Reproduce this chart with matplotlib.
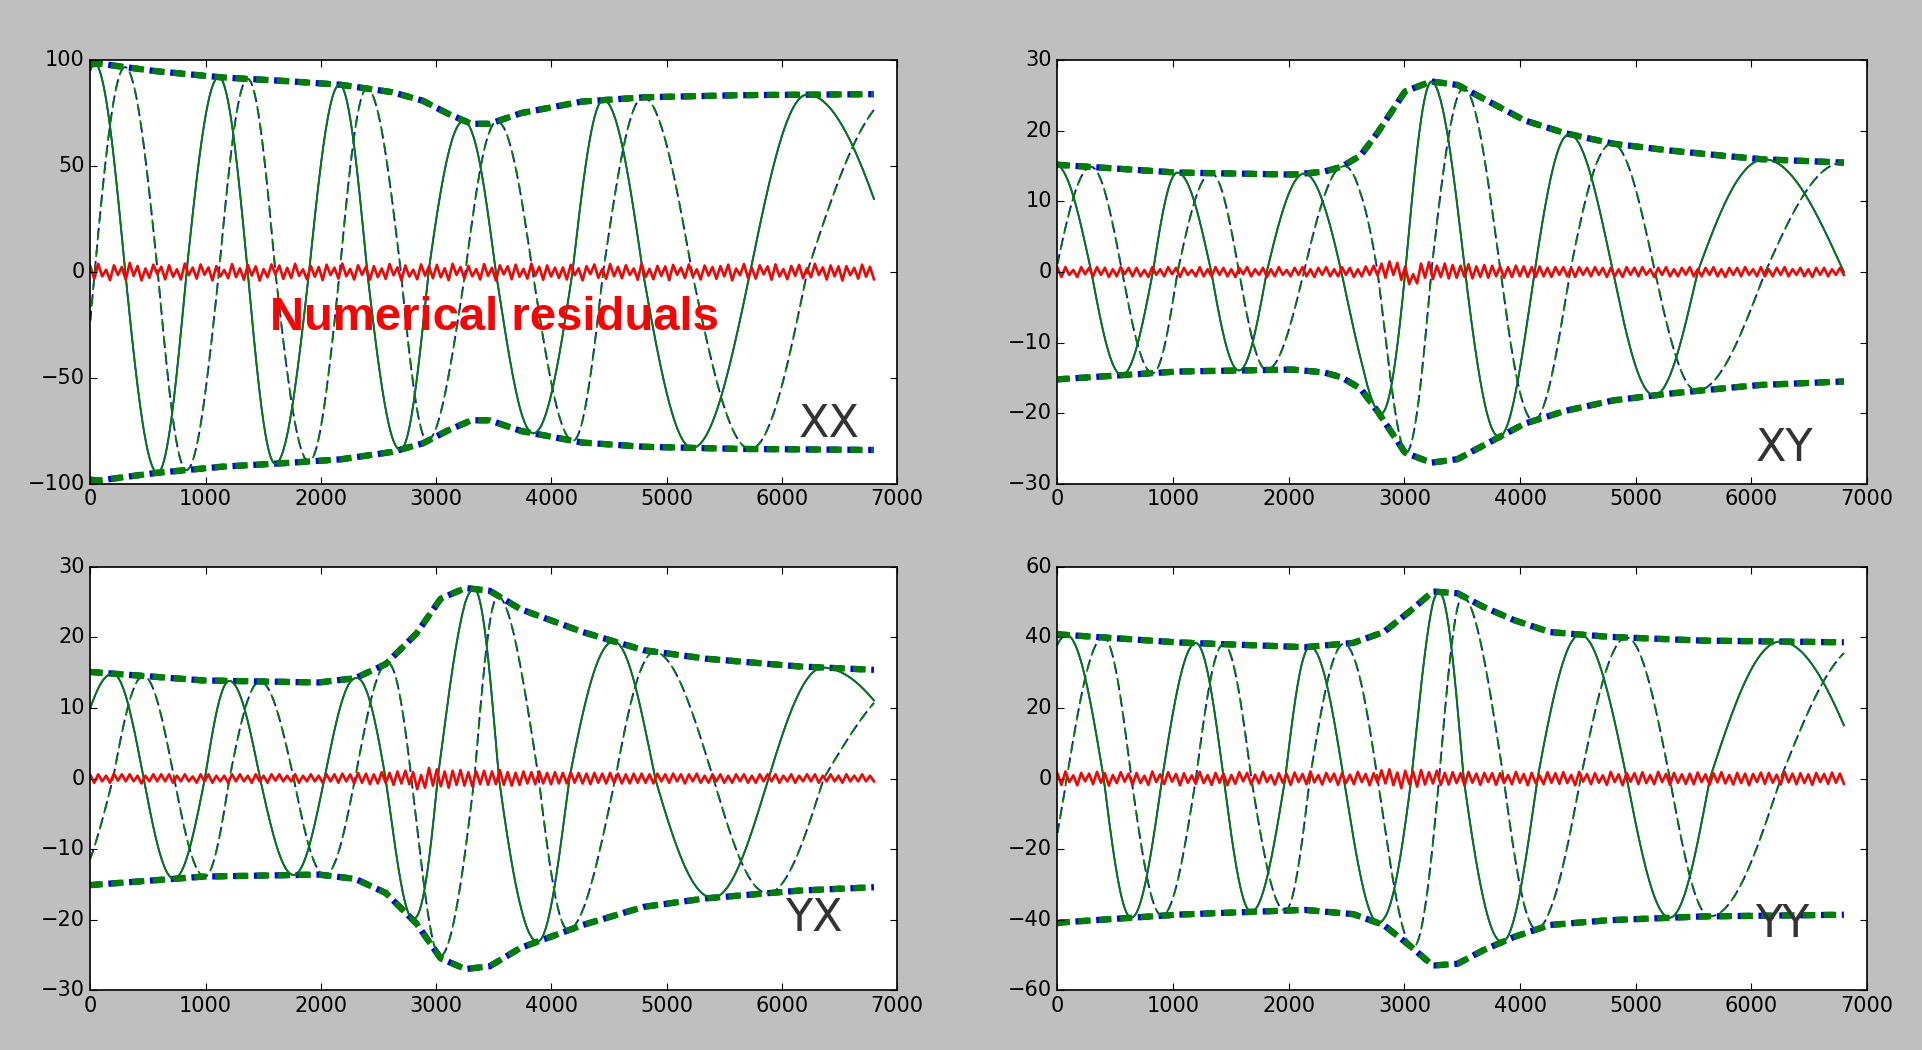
import numpy as np
import matplotlib
matplotlib.use("Agg")
import matplotlib.pyplot as plt

plt.style.use("classic")
plt.rcParams["font.family"] = ["DejaVu Sans"]

# ---------------- data ----------------
panel_names = ["XX", "XY", "YX", "YY"]
x_ticks = [0, 1000, 2000, 3000, 4000, 5000, 6000, 7000]

# amplitude envelope readings (x, |Z|)
xx_amp_x = [0, 64, 542, 1116, 1606, 2164, 2616, 2881, 3094, 3307, 3466, 3732, 4264, 4795, 5593, 6800]
xx_amp = [98, 98.5, 95, 92, 90.5, 88.5, 85, 81, 75, 70, 70, 75, 80.5, 82.5, 83.5, 84]
xy_amp_x = [0, 1011, 2022, 2300, 2455, 2620, 2758, 2900, 3006, 3232, 3460, 3748, 4036, 4381, 4797, 5243, 5674, 6067, 6800]
xy_amp = [15.2, 14.1, 13.8, 14.2, 14.9, 16.5, 19.5, 23, 25.6, 27.0, 26.5, 24, 21.5, 19.7, 18.2, 17.3, 16.6, 16.0, 15.5]
yx_amp_x = [0, 967, 1978, 2297, 2562, 2828, 3041, 3254, 3466, 3732, 4264, 4795, 5327, 6125, 6800]
yx_amp = [15.1, 13.9, 13.6, 14.2, 16.2, 20.5, 25.5, 27, 26.6, 24, 20.8, 18.2, 17, 15.9, 15.4]
yy_amp_x = [0, 27, 1011, 2129, 2555, 2821, 3033, 3246, 3459, 3672, 3938, 4258, 4737, 5535, 6800]
yy_amp = [41, 40.8, 38.6, 37.2, 38.4, 41.5, 47, 53, 52.5, 48.8, 45, 41.5, 40.2, 39.1, 38.6]

# phase readings: x position of successive extrema of real / imaginary part
# (phase given in quarter turns)
xx_ph_x = [0, 37, 303, 585, 835, 1116, 1366, 1606, 1898, 2164, 2403, 2695, 2935, 3254, 3519,
           3838, 4184, 4450, 4795, 5221, 5726, 6220, 6800]
xx_ph_q = [-0.15, 0, 1, 2, 3, 4, 5, 6, 7, 8, 9, 10, 11, 12, 13, 14, 15, 16, 17, 18, 19, 20, 20.73]
xy_ph_x = [0, 293, 559, 825, 1038, 1330, 1570, 1809, 2130, 2455, 2768, 3007, 3232, 3525, 3832,
           4125, 4432, 4804, 5166, 5535, 6120, 6800]
xy_ph_q = [0.05, 1, 2, 3, 4, 5, 6, 7, 8, 9, 10, 11, 12, 13, 14, 15, 16, 17, 18, 19, 20, 21]
yx_ph_x = [0, 197, 463, 728, 994, 1207, 1473, 1765, 2031, 2297, 2562, 2786, 3014, 3333, 3546,
           3891, 4157, 4556, 4902, 5407, 5885, 6364, 6800]
yx_ph_q = [-0.54, 0, 1, 2, 3, 4, 5, 6, 7, 8, 9, 10, 11, 12, 13, 14, 15, 16, 17, 18, 19, 20, 20.49]
yy_ph_x = [0, 80, 400, 639, 905, 1197, 1437, 1676, 1969, 2182, 2475, 2767, 3060, 3300, 3512,
           3858, 4151, 4524, 4923, 5295, 5641, 6253, 6800]
yy_ph_q = [-0.245, 0, 1, 2, 3, 4, 5, 6, 7, 8, 9, 10, 11, 12, 13, 14, 15, 16, 17, 18, 19, 20, 20.745]

# numerical residuals (evenly spaced over 0..6800)
xx_res = [2.7, -3.2, 3.9, -2.0, 1.1, -3.8, 3.2, -1.4, 2.4, -3.6, 4.3, -1.8, 2.9, -3.9, 1.7, -2.7, 3.5, -1.0, 2.5, -3.4,
          3.2, -2.2, 1.3, -3.5, 4.0, -1.5, 2.1, -3.1, 3.6, -1.3, 2.2, -3.9, 2.8, -2.1, 1.0, -2.9, 3.8, -2.4, 1.8, -3.6,
          3.4, -1.7, 2.7, -4.0, 1.4, -2.5, 3.6, -1.1, 3.1, -3.2, 2.0, -2.8, 3.9, -1.8, 1.3, -3.4, 2.9, -2.2, 2.4, -3.8,
          3.5, -1.4, 2.1, -3.1, 4.0, -2.0, 1.5, -3.5, 3.2, -1.3, 2.5, -3.6, 2.8, -2.4, 1.7, -3.2, 3.8, -1.5, 2.2, -3.9,
          3.1, -2.1, 1.1, -3.4, 3.6, -1.7, 2.7, -2.9, 3.4, -2.5, 1.8, -3.8, 3.9, -1.4, 2.4, -3.1, 2.9, -2.0, 1.4, -3.5,
          3.8, -1.8, 2.0, -4.0, 3.2, -1.1, 2.8, -3.4, 3.5, -2.2, 1.5, -3.1, 4.0, -1.7, 2.5, -3.6, 3.1, -2.1, 2.1, -2.8,
          2.2, -3.5, 3.4, -1.5, 1.8, -3.9, 2.8, -1.0, 3.6, -2.7, 1.4, -3.2, 3.8, -2.0, 2.5, -2.9, 3.2, -1.4, 1.7, -3.6,
          3.9, -2.4, 1.5, -3.4, 2.9, -1.8, 2.7, -3.8, 3.4, -1.3, 2.1, -2.8, 3.6, -2.2, 1.3, -3.5, 3.1, -1.7, 2.4, -3.2,
          2.8, -2.0, 3.5, -3.9, 1.7, -1.5, 3.8, -2.7, 2.0, -3.1, 3.2, -1.1, 2.7, -3.6, 3.6, -2.1, 1.4, -3.4, 2.9, -1.8,
          3.4, -2.9, 1.8, -2.4, 3.9, -1.4, 2.2, -3.5, 3.1, -2.0, 2.7, -4.0, 2.8, -1.5, 2.0, -3.1, 3.5, -2.2, 2.5, -3.4]
xy_res = [0.6, -0.7, 0.7, -0.4, 0.3, -0.7, 0.7, -0.3, 0.6, -0.6, 0.7, -0.4, 0.6, -0.7, 0.4, -0.6, 0.7, -0.3, 0.6, -0.6,
          0.6, -0.6, 0.3, -0.7, 0.7, -0.4, 0.4, -0.6, 0.7, -0.3, 0.6, -0.7, 0.6, -0.4, 0.3, -0.6, 0.7, -0.6, 0.4, -0.6,
          0.7, -0.4, 0.6, -0.6, 0.4, -0.7, 0.6, -0.3, 0.7, -0.6, 0.4, -0.4, 0.6, -0.7, 0.4, -0.6, 0.7, -0.4, 0.3, -0.6,
          0.6, -0.4, 0.7, -0.6, 0.4, -0.7, 0.6, -0.4, 0.7, -0.6, 0.4, -0.6, 0.7, -0.4, 0.6, -0.7, 0.4, -0.6, 0.8, -0.4,
          0.9, -0.5, 1.2, -0.8, 1.5, -0.4, 1.3, -1.1, 0.8, -1.7, -0.3, -1.6, 1.2, -0.8, 1.4, -1.0, 0.9, -0.7, 1.2, -0.9,
          1.0, -0.8, 0.9, -0.7, 1.1, -0.9, 0.8, -0.7, 1.0, -0.8, 0.9, -0.6, 0.8, -0.8, 0.7, -0.7, 0.9, -0.6, 0.8, -0.7,
          0.7, -0.7, 0.8, -0.6, 0.6, -0.7, 0.7, -0.4, 0.7, -0.6, 0.6, -0.7, 0.7, -0.4, 0.6, -0.6, 0.7, -0.4, 0.6, -0.7,
          0.6, -0.6, 0.4, -0.7, 0.7, -0.4, 0.6, -0.6, 0.7, -0.4, 0.4, -0.7, 0.6, -0.4, 0.7, -0.6, 0.4, -0.6, 0.6, -0.4,
          0.7, -0.6, 0.4, -0.6, 0.6, -0.4, 0.7, -0.6, 0.4, -0.7, 0.6, -0.4, 0.6, -0.6, 0.7, -0.4, 0.4, -0.6, 0.7, -0.6,
          0.4, -0.6, 0.6, -0.4, 0.7, -0.6, 0.4, -0.4, 0.6, -0.6, 0.4, -0.7, 0.6, -0.4, 0.6, -0.6, 0.4, -0.4, 0.6, -0.4]
yx_res = [0.5, -0.6, 0.6, -0.4, 0.4, -0.6, 0.7, -0.3, 0.6, -0.4, 0.6, -0.4, 0.4, -0.7, 0.4, -0.4, 0.6, -0.4, 0.6, -0.4,
          0.6, -0.6, 0.4, -0.4, 0.6, -0.4, 0.3, -0.6, 0.6, -0.4, 0.6, -0.6, 0.4, -0.4, 0.4, -0.6, 0.6, -0.4, 0.6, -0.4,
          0.4, -0.6, 0.6, -0.4, 0.4, -0.6, 0.6, -0.3, 0.6, -0.4, 0.4, -0.4, 0.6, -0.6, 0.4, -0.4, 0.6, -0.4, 0.4, -0.6,
          0.6, -0.4, 0.6, -0.6, 0.7, -0.4, 0.6, -0.7, 0.8, -0.6, 0.7, -0.8, 0.6, -0.7, 0.9, -0.6, 0.8, -0.9, 1.0, -0.7,
          1.1, -0.8, 0.9, -1.5, 0.5, -1.3, 1.5, -1.0, 1.3, -1.1, 1.0, -1.3, 1.1, -0.9, 1.2, -1.0, 0.9, -1.1, 1.0, -0.8,
          1.1, -0.9, 1.0, -0.8, 1.2, -0.9, 0.9, -1.0, 0.8, -0.9, 1.0, -0.7, 0.9, -0.8, 1.0, -0.7, 0.8, -0.8, 0.9, -0.7,
          0.8, -0.7, 0.9, -0.6, 0.8, -0.7, 0.7, -0.8, 0.8, -0.6, 0.7, -0.7, 0.8, -0.6, 0.7, -0.7, 0.6, -0.7, 0.7, -0.6,
          0.7, -0.6, 0.6, -0.7, 0.7, -0.4, 0.6, -0.6, 0.7, -0.4, 0.6, -0.7, 0.6, -0.4, 0.7, -0.6, 0.4, -0.6, 0.6, -0.4,
          0.6, -0.6, 0.4, -0.6, 0.6, -0.4, 0.6, -0.6, 0.4, -0.6, 0.6, -0.4, 0.6, -0.4, 0.6, -0.6, 0.4, -0.4, 0.6, -0.6,
          0.4, -0.4, 0.6, -0.4, 0.6, -0.6, 0.4, -0.4, 0.6, -0.4, 0.4, -0.6, 0.6, -0.4, 0.4, -0.4, 0.6, -0.4, 0.4, -0.4]
yy_res = [1.4, -1.8, 2.0, -1.0, 0.9, -1.9, 1.6, -0.8, 1.4, -1.6, 1.9, -1.2, 1.5, -2.0, 1.0, -1.3, 1.8, -0.9, 1.4, -1.8,
          1.6, -1.3, 0.8, -1.8, 2.0, -1.0, 1.2, -1.6, 1.8, -0.9, 1.3, -1.9, 1.5, -1.2, 0.9, -1.5, 1.9, -1.3, 1.0, -1.8,
          1.6, -1.2, 1.4, -1.9, 1.0, -1.5, 1.8, -0.8, 1.6, -1.6, 1.1, -1.4, 1.9, -1.0, 1.0, -1.7, 1.5, -1.2, 1.3, -1.8,
          1.7, -1.0, 1.3, -1.6, 2.0, -1.1, 1.0, -1.7, 1.6, -0.9, 1.4, -1.8, 1.5, -1.3, 1.1, -1.6, 1.9, -1.0, 1.3, -1.9,
          1.5, -1.2, 2.3, -1.4, 2.6, -1.9, 1.7, -2.7, 2.2, -1.5, 2.0, -2.3, 2.4, -1.7, 1.8, -1.4, 2.2, -1.8, 1.6, -1.7,
          1.8, -1.3, 1.5, -1.9, 1.9, -1.2, 1.4, -1.8, 1.6, -1.0, 1.5, -1.8, 1.5, -1.3, 1.0, -1.6, 1.9, -1.2, 1.3, -1.9,
          1.6, -1.3, 0.9, -1.6, 1.8, -1.2, 1.5, -1.5, 1.8, -1.3, 1.0, -1.9, 1.9, -0.9, 1.3, -1.6, 1.5, -1.2, 0.9, -1.8,
          1.9, -1.0, 1.2, -1.9, 1.6, -0.9, 1.5, -1.6, 1.8, -1.3, 1.0, -1.6, 1.9, -1.0, 1.3, -1.8, 1.6, -1.2, 1.2, -1.5,
          1.4, -1.6, 1.7, -1.0, 1.2, -1.8, 1.5, -1.1, 1.8, -1.4, 1.0, -1.7, 1.6, -1.3, 1.4, -1.9, 1.3, -1.0, 1.7, -1.5,
          1.6, -1.2, 1.1, -1.7, 1.9, -1.1, 1.4, -1.6, 1.5, -1.3, 1.2, -1.8, 1.6, -1.0, 1.3, -1.5, 1.7, -1.2, 1.4, -1.5]

ylims = [(-100, 100), (-30, 30), (-30, 30), (-60, 60)]
yticks = [list(range(-100, 101, 50)), list(range(-30, 31, 10)), list(range(-30, 31, 10)), list(range(-60, 61, 20))]
label_pos = [(6150, -77.9), (6036, -26.8), (6033, -21.6), (6036, -45.0)]

amps = [(xx_amp_x, xx_amp), (xy_amp_x, xy_amp), (yx_amp_x, yx_amp), (yy_amp_x, yy_amp)]
phases = [(xx_ph_x, xx_ph_q), (xy_ph_x, xy_ph_q), (yx_ph_x, yx_ph_q), (yy_ph_x, yy_ph_q)]
residuals = [xx_res, xy_res, yx_res, yy_res]

# ---------------- figure ----------------
fig = plt.figure(figsize=(19.22, 10.5), dpi=100)
fig.patch.set_facecolor("#bfbfbf")

rects = [
    [0.0470, 0.5392, 0.4197, 0.4034],
    [0.5502, 0.5392, 0.4212, 0.4034],
    [0.0470, 0.0569, 0.4197, 0.4033],
    [0.5502, 0.0569, 0.4212, 0.4033],
]

xs = np.linspace(0, 6800, 2000)
for i in range(4):
    ax = fig.add_axes(rects[i])
    ax.set_facecolor("white")
    ax_x, ax_a = amps[i]
    ph_x, ph_q = phases[i]
    A = np.interp(xs, ax_x, ax_a)
    q = np.interp(xs, ph_x, ph_q) * np.pi / 2
    z = A * np.exp(1j * q)

    # data (blue)
    ax.plot(xs, z.real, color="b", lw=1.3)
    ax.plot(xs, z.imag, color="b", lw=1.3, linestyle=(0, (7, 5)))
    for s in (1, -1):
        ax.plot(xs, s * np.abs(z), color="b", lw=4.5, linestyle=(2, (9, 6)))
    # model (green)
    ax.plot(xs, z.real, color="g", lw=1.3)
    ax.plot(xs, z.imag, color="g", lw=1.3, linestyle=(2, (7, 5)))
    for s in (1, -1):
        ax.plot(xs, s * np.abs(z), color="g", lw=4.5, linestyle=(0, (9, 6)))
    # residuals
    res = residuals[i]
    ax.plot(np.linspace(0, 6800, len(res)), res, color="r", lw=1.9)

    ax.set_xlim(0, 7000)
    ax.set_ylim(*ylims[i])
    ax.set_xticks(x_ticks)
    ax.set_yticks(yticks[i])
    ax.tick_params(labelsize=15, direction="in", length=5, width=0.8, top=True, right=True)
    for sp in ax.spines.values():
        sp.set_linewidth(1.2)
    ax.text(label_pos[i][0], label_pos[i][1], panel_names[i], fontsize=32, color="#333333",
            ha="left", va="baseline")
    if i == 0:
        ax.text(3507, -27.4, "Numerical residuals", fontsize=34, color="red", fontweight="bold",
                family=["Liberation Sans", "DejaVu Sans"], ha="center", va="baseline")

fig.savefig("out.png", dpi=100, facecolor=fig.get_facecolor())
